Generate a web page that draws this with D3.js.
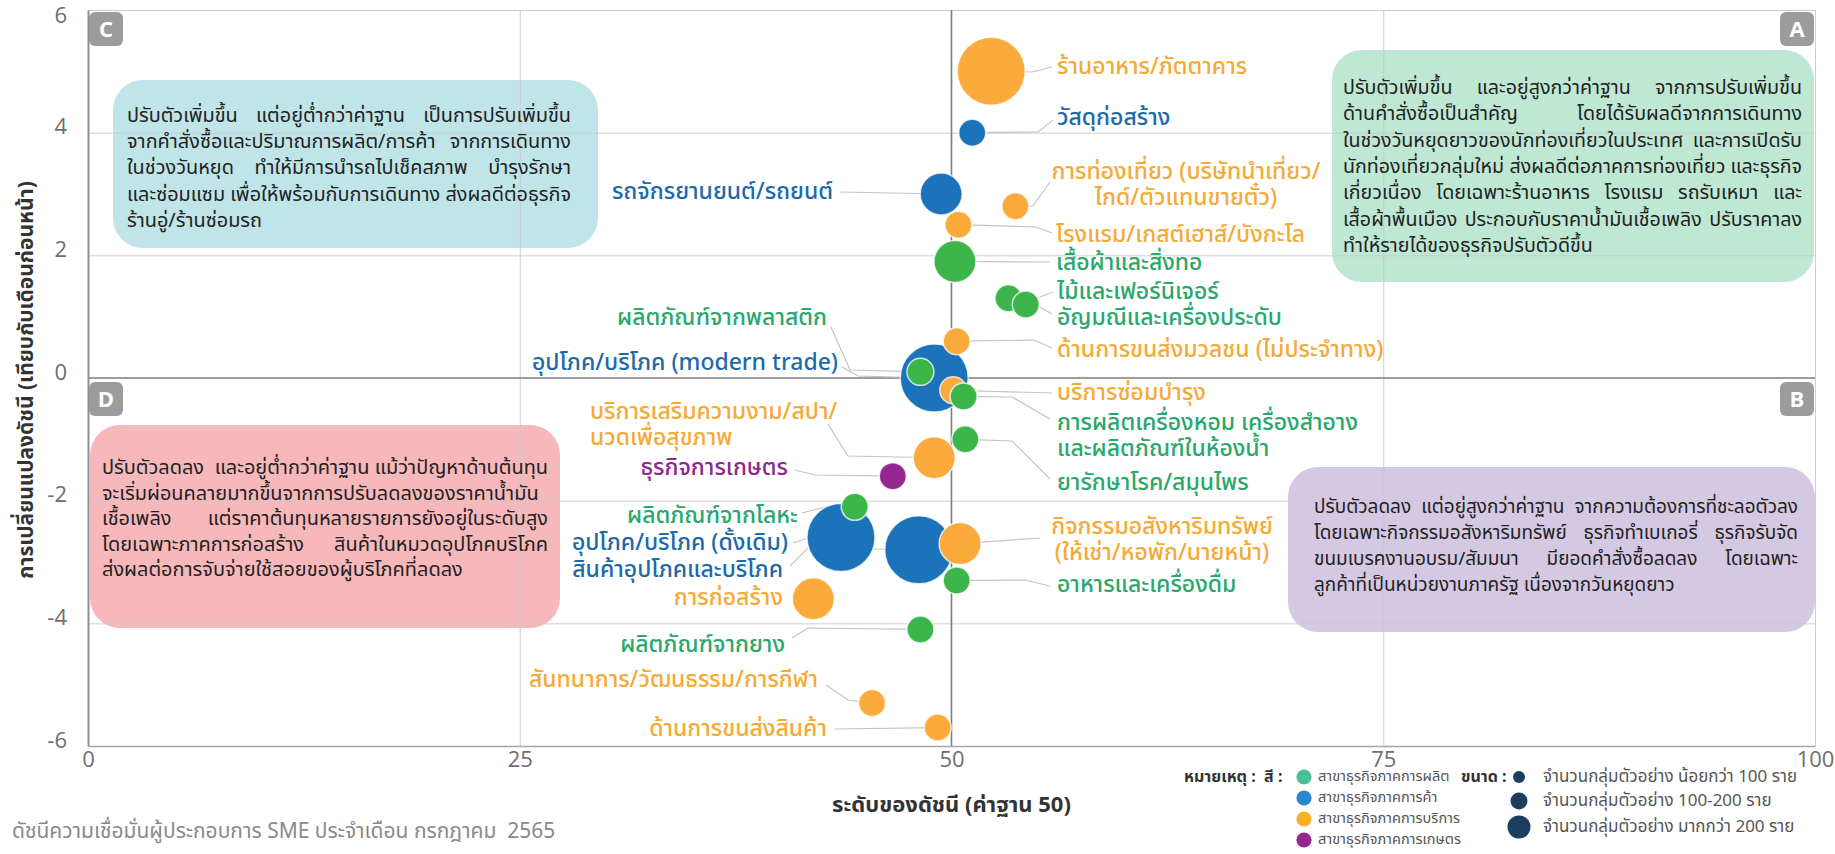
<!DOCTYPE html>
<html>
<head>
<meta charset="utf-8">
<script src="https://cdn.jsdelivr.net/npm/d3@7"></script>
<style>
  body { margin: 0; background: #fff; }
  svg { display: block; }
  text { font-family: "Noto Sans Thai", "Noto Sans", "Open Sans", sans-serif; }
  .tick text { font-family: "Open Sans", "Noto Sans", sans-serif; }
</style>
</head>
<body>
<svg id="chart" width="1835" height="854"></svg>
<script>
// ---- data: SME confidence index by business type ----
const names = [
  "ร้านอาหาร/ภัตตาคาร",
  "วัสดุก่อสร้าง",
  "รถจักรยานยนต์/รถยนต์",
  "การท่องเที่ยว (บริษัทนำเที่ยว/\nไกด์/ตัวแทนขายตั๋ว)",
  "โรงแรม/เกสต์เฮาส์/บังกะโล",
  "เสื้อผ้าและสิ่งทอ",
  "ไม้และเฟอร์นิเจอร์",
  "อัญมณีและเครื่องประดับ",
  "ด้านการขนส่งมวลชน (ไม่ประจำทาง)",
  "อุปโภค/บริโภค (modern trade)",
  "ผลิตภัณฑ์จากพลาสติก",
  "บริการซ่อมบำรุง",
  "การผลิตเครื่องหอม เครื่องสำอาง\nและผลิตภัณฑ์ในห้องน้ำ",
  "ยารักษาโรค/สมุนไพร",
  "บริการเสริมความงาม/สปา/\nนวดเพื่อสุขภาพ",
  "ธุรกิจการเกษตร",
  "ผลิตภัณฑ์จากโลหะ",
  "อุปโภค/บริโภค (ดั้งเดิม)",
  "สินค้าอุปโภคและบริโภค",
  "กิจกรรมอสังหาริมทรัพย์\n(ให้เช่า/หอพัก/นายหน้า)",
  "อาหารและเครื่องดื่ม",
  "การก่อสร้าง",
  "ผลิตภัณฑ์จากยาง",
  "สันทนาการ/วัฒนธรรม/การกีฬา",
  "ด้านการขนส่งสินค้า"
];
const sectors = [
  "service", "trade", "trade", "service", "service", "mfg", "mfg", "mfg", "service",
  "trade", "mfg", "service", "mfg", "mfg", "service", "agri", "mfg", "trade", "trade",
  "service", "mfg", "service", "mfg", "service", "service"
];
// index level (base 50)
const indexLevel = [
  52.3, 51.2, 49.4, 53.7, 50.4, 50.2, 53.3, 54.3, 50.3, 49.0, 48.2, 50.1, 50.7,
  50.8, 49.0, 46.6, 44.4, 43.6, 48.1, 50.5, 50.3, 42.0, 48.2, 45.4, 49.2
];
// change versus previous month
const indexChange = [
  5.0, 4.0, 3.0, 2.8, 2.5, 1.9, 1.3, 1.2, 0.6, 0.0, 0.1, -0.2, -0.3,
  -1.0, -1.3, -1.6, -2.1, -2.6, -2.8, -2.7, -3.3, -3.6, -4.1, -5.3, -5.7
];
// sample size group: S < 100, M 100-200, L > 200
const sampleGroup = [
  "L", "S", "M", "S", "S", "M", "S", "S", "S", "L", "S", "S", "S",
  "S", "M", "S", "S", "L", "L", "M", "S", "M", "S", "S", "S"
];
const xTicks = [0, 25, 50, 75, 100];
const yTicks = [-6, -4, -2, 0, 2, 4, 6];
const sectorKeys = ["mfg", "trade", "service", "agri"];
const sectorLegend = ["สาขาธุรกิจภาคการผลิต", "สาขาธุรกิจภาคการค้า", "สาขาธุรกิจภาคการบริการ", "สาขาธุรกิจภาคการเกษตร"];
const sizeKeys = ["S", "M", "L"];
const sizeLegend = ["จำนวนกลุ่มตัวอย่าง น้อยกว่า 100 ราย", "จำนวนกลุ่มตัวอย่าง 100-200 ราย", "จำนวนกลุ่มตัวอย่าง มากกว่า 200 ราย"];

const quadrantNotes = {
  A: ["ปรับตัวเพิ่มขึ้น  และอยู่สูงกว่าค่าฐาน  จากการปรับเพิ่มขึ้น",
      "ด้านคำสั่งซื้อเป็นสำคัญ  โดยได้รับผลดีจากการเดินทาง",
      "ในช่วงวันหยุดยาวของนักท่องเที่ยวในประเทศ และการเปิดรับ",
      "นักท่องเที่ยวกลุ่มใหม่ ส่งผลดีต่อภาคการท่องเที่ยว และธุรกิจ",
      "เกี่ยวเนื่อง โดยเฉพาะร้านอาหาร โรงแรม รถรับเหมา และ",
      "เสื้อผ้าพื้นเมือง ประกอบกับราคาน้ำมันเชื้อเพลิง ปรับราคาลง",
      "ทำให้รายได้ของธุรกิจปรับตัวดีขึ้น"],
  B: ["ปรับตัวลดลง  แต่อยู่สูงกว่าค่าฐาน  จากความต้องการที่ชะลอตัวลง",
      "โดยเฉพาะกิจกรรมอสังหาริมทรัพย์ ธุรกิจทำเบเกอรี่ ธุรกิจรับจัด",
      "ขนมเบรคงานอบรม/สัมมนา มียอดคำสั่งซื้อลดลง โดยเฉพาะ",
      "ลูกค้าที่เป็นหน่วยงานภาครัฐ เนื่องจากวันหยุดยาว"],
  C: ["ปรับตัวเพิ่มขึ้น  แต่อยู่ต่ำกว่าค่าฐาน  เป็นการปรับเพิ่มขึ้น",
      "จากคำสั่งซื้อและปริมาณการผลิต/การค้า จากการเดินทาง",
      "ในช่วงวันหยุด ทำให้มีการนำรถไปเช็คสภาพ บำรุงรักษา",
      "และซ่อมแซม เพื่อให้พร้อมกับการเดินทาง ส่งผลดีต่อธุรกิจ",
      "ร้านอู่/ร้านซ่อมรถ"],
  D: ["ปรับตัวลดลง  และอยู่ต่ำกว่าค่าฐาน แม้ว่าปัญหาด้านต้นทุน",
      "จะเริ่มผ่อนคลายมากขึ้นจากการปรับลดลงของราคาน้ำมัน",
      "เชื้อเพลิง แต่ราคาต้นทุนหลายรายการยังอยู่ในระดับสูง",
      "โดยเฉพาะภาคการก่อสร้าง   สินค้าในหมวดอุปโภคบริโภค",
      "ส่งผลต่อการจับจ่ายใช้สอยของผู้บริโภคที่ลดลง"]
};

// ---- layout ----
const svg = d3.select("#chart");
const x = d3.scaleLinear().domain([0, 100]).range([88, 1815]);
const y = d3.scaleLinear().domain([-6, 6]).range([746, 10]);
const radius = d3.scaleOrdinal().domain(sizeKeys).range([13.5, 21, 34]);
const fillColor = d3.scaleOrdinal().domain(sectorKeys).range(["#3cb54a", "#1c73b9", "#fbab3c", "#93278f"]);
const labelColor = d3.scaleOrdinal().domain(sectorKeys).range(["#2aa86c", "#1d6aab", "#f5aa36", "#8c2a8c"]);
const legendColor = d3.scaleOrdinal().domain(sectorKeys).range(["#4cbf96", "#2a88cf", "#fbb127", "#93278f"]);

// label placement for each business (text anchor point and leader elbows, in px)
const labelLayout = [
  { anchor: "start", tx: 1057, ty: 67, lead: [[1032, 72], [1052, 67]] },
  { anchor: "start", tx: 1057, ty: 118, lead: [[1038, 132], [1053, 120]] },
  { anchor: "end", tx: 833, ty: 192, lead: [[840, 192]] },
  { anchor: "middle", tx: 1186, ty: 172, lead: [[1033, 206], [1050, 182]] },
  { anchor: "start", tx: 1056, ty: 235, lead: [[1036, 227], [1052, 233]] },
  { anchor: "start", tx: 1056, ty: 263, lead: [[1050, 262]] },
  { anchor: "start", tx: 1057, ty: 292, lead: [[1040, 297], [1053, 292]] },
  { anchor: "start", tx: 1057, ty: 318, lead: [[1038, 306], [1052, 314]] },
  { anchor: "start", tx: 1057, ty: 350, lead: [[1034, 340], [1052, 348]] },
  { anchor: "end", tx: 838, ty: 363, lead: [[858, 376], [842, 367]] },
  { anchor: "end", tx: 827, ty: 318, lead: [[850, 370], [831, 327]] },
  { anchor: "start", tx: 1057, ty: 393, lead: [[1052, 393]] },
  { anchor: "start", tx: 1057, ty: 423, lead: [[1012, 397], [1050, 419]] },
  { anchor: "start", tx: 1057, ty: 483, lead: [[1012, 441], [1050, 479]] },
  { anchor: "start", tx: 590, ty: 412, lead: [[848, 456], [828, 424]] },
  { anchor: "end", tx: 788, ty: 468, lead: [[815, 475], [795, 470]] },
  { anchor: "end", tx: 798, ty: 516, lead: [[825, 507], [802, 513]] },
  { anchor: "end", tx: 788, ty: 543, lead: [[808, 538], [793, 543]] },
  { anchor: "end", tx: 783, ty: 570, lead: [[808, 548], [790, 566]] },
  { anchor: "middle", tx: 1162, ty: 527, lead: [[1040, 538]] },
  { anchor: "start", tx: 1057, ty: 585, lead: [[1025, 580], [1050, 586]] },
  { anchor: "end", tx: 783, ty: 598, lead: [] },
  { anchor: "end", tx: 785, ty: 645, lead: [[808, 628], [792, 638]] },
  { anchor: "end", tx: 818, ty: 680, lead: [[848, 700], [826, 685]] },
  { anchor: "end", tx: 827, ty: 729, lead: [[835, 729]] }
];

const items = names.map((n, i) => ({
  i, name: n, sector: sectors[i], xv: indexLevel[i], yv: indexChange[i], size: sampleGroup[i], layout: labelLayout[i]
}));

// ---- quadrant note boxes (drawn under the grid) ----
const boxes = [
  { key: "C", x0: 113, x1: 598, y0: 80, y1: 248, fill: "#c0e5e9", tx0: 127, tx1: 571, ty: 116, lh: 26.2 },
  { key: "A", x0: 1332, x1: 1814, y0: 50, y1: 282, fill: "#bfe8d4", tx0: 1343, tx1: 1802, ty: 88, lh: 26.3 },
  { key: "D", x0: 90, x1: 560, y0: 425, y1: 628, fill: "#f7b8bc", tx0: 102, tx1: 548, ty: 468, lh: 25.5 },
  { key: "B", x0: 1288, x1: 1815, y0: 467, y1: 632, fill: "#d5c8e3", tx0: 1314, tx1: 1798, ty: 507, lh: 26 }
];
svg.append("g").selectAll("rect").data(boxes).join("rect")
  .attr("x", d => d.x0).attr("y", d => d.y0)
  .attr("width", d => d.x1 - d.x0).attr("height", d => d.y1 - d.y0)
  .attr("rx", 30).attr("fill", d => d.fill);

// ---- grid ----
const grid = svg.append("g");
grid.append("g")
  .attr("transform", `translate(${x(0)},0)`)
  .call(d3.axisLeft(y).tickValues(yTicks.filter(v => v !== 0 && v !== -6)).tickSize(-(x(100) - x(0))).tickFormat(""))
  .call(g => g.select(".domain").remove())
  .call(g => g.selectAll("line").attr("stroke", "#c9c9c9").attr("stroke-opacity", 0.9));
grid.append("g")
  .attr("transform", `translate(0,${y(-6)})`)
  .call(d3.axisBottom(x).tickValues(xTicks.filter(v => v !== 0 && v !== 50)).tickSize(-(y(-6) - y(6))).tickFormat(""))
  .call(g => g.select(".domain").remove())
  .call(g => g.selectAll("line").attr("stroke", "#c9c9c9").attr("stroke-opacity", 0.9));
// reference lines at base 50 and zero change
grid.append("line").attr("x1", x(50)).attr("x2", x(50)).attr("y1", y(6)).attr("y2", y(-6))
  .attr("stroke", "#7c7c7c").attr("stroke-width", 1.6);
grid.append("line").attr("x1", x(0)).attr("x2", x(100)).attr("y1", y(0)).attr("y2", y(0))
  .attr("stroke", "#7c7c7c").attr("stroke-width", 1.6);

// ---- axes ----
const xAxis = svg.append("g").attr("transform", `translate(0,${y(-6)})`)
  .call(d3.axisBottom(x).tickValues(xTicks).tickSize(0).tickPadding(5).tickFormat(d => String(d)));
xAxis.select(".domain").attr("stroke", "#a6a6a6").attr("stroke-width", 1.6);
xAxis.selectAll("text").attr("font-size", 22).attr("fill", "#6e6e6e");

const yAxis = svg.append("g").attr("transform", `translate(${x(0)},0)`)
  .call(d3.axisLeft(y).tickValues(yTicks).tickSize(0).tickPadding(21).tickFormat(d => String(d)));
yAxis.select(".domain").attr("stroke", "#8f8f8f").attr("stroke-width", 2);
yAxis.selectAll("text").attr("font-size", 22).attr("fill", "#6e6e6e")
  .attr("dy", d => d === 6 ? "0.55em" : "0.05em");

// ---- note text, justified to the box width ----
boxes.forEach(b => {
  const lines = quadrantNotes[b.key];
  const g = svg.append("g");
  let fs = 22;
  const tmp = lines.map((l, k) => g.append("text")
    .attr("x", b.tx0).attr("y", b.ty + k * b.lh)
    .attr("dominant-baseline", "central")
    .attr("font-size", fs).attr("fill", "#222")
    .style("white-space", "pre").text(l));
  const widest = d3.max(tmp, t => t.node().getComputedTextLength());
  const target = b.tx1 - b.tx0;
  if (widest > target) {
    fs = fs * target / widest;
    tmp.forEach(t => t.attr("font-size", fs));
  }
  tmp.forEach((t, k) => {
    if (k === lines.length - 1) return;
    const spaces = (lines[k].match(/ /g) || []).length;
    if (!spaces) return;
    const natural = t.node().getComputedTextLength();
    t.style("word-spacing", ((target - natural) / spaces) + "px");
  });
});

// ---- quadrant badges ----
const badges = [
  { k: "C", xv: 0, yv: 6, side: "left" }, { k: "A", xv: 100, yv: 6, side: "right" },
  { k: "D", xv: 0, yv: 0, side: "left" }, { k: "B", xv: 100, yv: 0, side: "right" }
];
const bg = svg.append("g").selectAll("g").data(badges).join("g")
  .attr("transform", d => `translate(${d.side === "left" ? x(d.xv) + 1 : x(d.xv) - 35},${y(d.yv) + (d.yv === 6 ? 2 : 4)})`);
bg.append("rect").attr("width", 34).attr("height", 34).attr("rx", 6).attr("fill", "#9c9c9c");
bg.append("text").attr("x", 17).attr("y", 18).attr("text-anchor", "middle").attr("dominant-baseline", "central")
  .attr("font-size", 22).attr("font-weight", 700).attr("fill", "#fff").attr("font-family", "Open Sans, sans-serif").text(d => d.k);

// ---- leader lines ----
const line = d3.line();
svg.append("g").selectAll("path").data(items.filter(d => d.layout.lead.length)).join("path")
  .attr("d", d => line([[x(d.xv), y(d.yv)], ...d.layout.lead]))
  .attr("fill", "none").attr("stroke", "#c4c4c4").attr("stroke-width", 1.2);

// ---- bubbles (largest first so small ones stay visible) ----
const order = items.slice().sort((a, b) => radius(b.size) - radius(a.size) || a.i - b.i);
svg.append("g").selectAll("circle").data(order).join("circle")
  .attr("cx", d => x(d.xv)).attr("cy", d => y(d.yv)).attr("r", d => radius(d.size))
  .attr("fill", d => fillColor(d.sector))
  .attr("stroke", "#ffffff").attr("stroke-opacity", 0.75).attr("stroke-width", 1.5);

// ---- bubble labels ----
const lab = svg.append("g").selectAll("text").data(items).join("text")
  .attr("text-anchor", d => d.layout.anchor)
  .attr("font-size", 23).attr("font-weight", 500)
  .attr("fill", d => labelColor(d.sector));
lab.each(function (d) {
  const parts = d.name.split("\n");
  d3.select(this).selectAll("tspan").data(parts).join("tspan")
    .attr("x", d.layout.tx).attr("y", (p, k) => d.layout.ty + k * 26)
    .attr("dominant-baseline", "central").text(p => p);
});

// ---- axis titles ----
svg.append("text").attr("x", x(50)).attr("y", 805).attr("text-anchor", "middle")
  .attr("dominant-baseline", "central").attr("font-size", 22).attr("font-weight", 700).attr("fill", "#333")
  .text("ระดับของดัชนี (ค่าฐาน 50)");
svg.append("text").attr("transform", "translate(26,380) rotate(-90)").attr("text-anchor", "middle")
  .attr("dominant-baseline", "central").attr("font-size", 21).attr("font-weight", 700).attr("fill", "#333")
  .text("การเปลี่ยนแปลงดัชนี (เทียบกับเดือนก่อนหน้า)");

// ---- footnote ----
svg.append("text").attr("x", 12).attr("y", 838).attr("font-size", 21).attr("fill", "#8a8a8a")
  .style("white-space", "pre")
  .text("ดัชนีความเชื่อมั่นผู้ประกอบการ SME ประจำเดือน กรกฎาคม  2565");

// ---- legend ----
const lg = svg.append("g");
lg.append("text").attr("x", 1184).attr("y", 777).attr("dominant-baseline", "central")
  .attr("font-size", 16).attr("font-weight", 700).attr("fill", "#333").style("white-space", "pre").text("หมายเหตุ :  สี :");
sectorKeys.forEach((k, i) => {
  const yy = 777 + i * 21;
  lg.append("circle").attr("cx", 1304).attr("cy", yy).attr("r", 7.6).attr("fill", legendColor(k));
  lg.append("text").attr("x", 1318).attr("y", yy).attr("dominant-baseline", "central")
    .attr("font-size", 14.5).attr("fill", "#555").text(sectorLegend[i]);
});
lg.append("text").attr("x", 1461).attr("y", 777).attr("dominant-baseline", "central")
  .attr("font-size", 16).attr("font-weight", 700).attr("fill", "#333").text("ขนาด :");
const sizeY = [777, 801, 827];
const sizeR = d3.scaleOrdinal().domain(sizeKeys).range([6, 8.5, 11.5]);
sizeKeys.forEach((k, i) => {
  lg.append("circle").attr("cx", 1519).attr("cy", sizeY[i]).attr("r", sizeR(k)).attr("fill", "#1d3f5f");
  lg.append("text").attr("x", 1543).attr("y", sizeY[i]).attr("dominant-baseline", "central")
    .attr("font-size", 17).attr("fill", "#555").text(sizeLegend[i]);
});
</script>
</body>
</html>
